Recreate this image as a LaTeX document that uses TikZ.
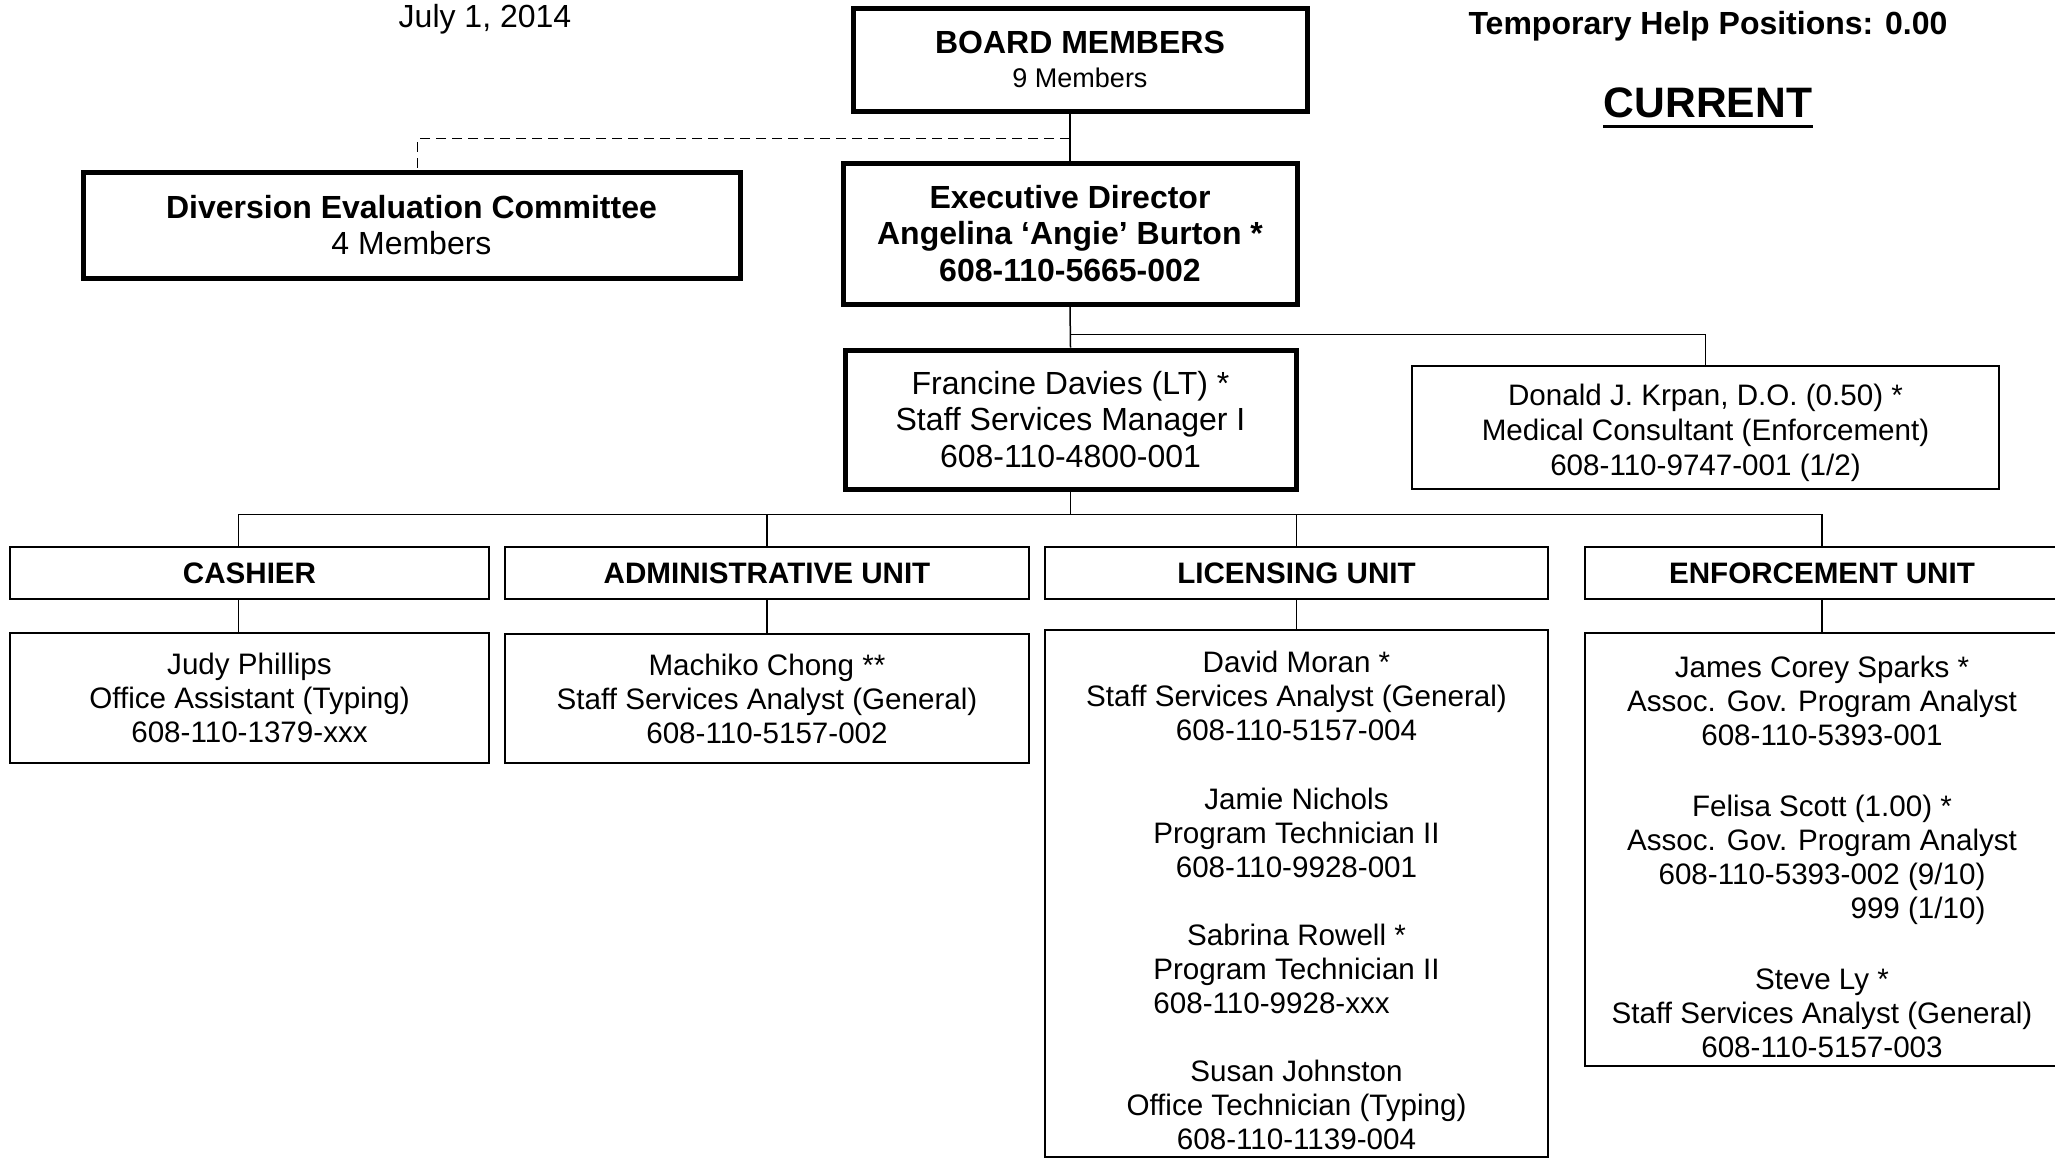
\documentclass[tikz,border=0pt]{standalone}
\usepackage{fontspec}
\setmainfont{Liberation Sans}
\usetikzlibrary{positioning,calc}
\newcommand\ftxt{\fontsize{14.8}{17}\selectfont}
\newcommand\fhead{\fontsize{16}{18.25}\selectfont}
\newcommand\fbrd{\fontsize{16}{17}\selectfont}
\newcommand\fmem{\fontsize{13.5}{17}\selectfont}
\newcommand\fcur{\fontsize{21.3}{24}\selectfont}
\newcommand\topline[2]{\raisebox{0pt}[#1]{#2}}
\tikzset{
  every node/.style={font=\ftxt, inner sep=0pt},
  % --- nodes
  box/.style    = {draw, line width=1pt, align=center, anchor=center},
  bigbox/.style = {box, line width=2.5pt, font=\fhead},
  unit/.style   = {box, font=\ftxt\bfseries, minimum height=26pt},
  % --- edges
  link/.style   = {line width=0.75pt},
  dlink/.style  = {link, dash pattern=on 5pt off 3pt},
}
\begin{document}
\begin{tikzpicture}[x=0.5pt,y=-0.5pt]
  \useasboundingbox (0,0) rectangle (2055,1162);
  % --- header texts
  \node[anchor=base, font=\fhead] (date) at (485,27.5) {July 1, 2014};
  \node[anchor=base, font=\fhead\bfseries] (temp) at (1708,34) {Temporary Help Positions: 0.00};
  \node[anchor=base, font=\fcur\bfseries] (cur) at (1708,117) {CURRENT};
  \draw[line width=1.5pt] ([yshift=-4.5pt]cur.base west) -- ([yshift=-4.5pt]cur.base east);
  % --- top of the chart
  \node[bigbox, font=\fbrd, minimum width=227pt, minimum height=51.5pt] (board) at (1080,59.5)
    {\textbf{BOARD MEMBERS}\\{\fmem 9 Members}};
  \node[bigbox, minimum width=328.5pt, minimum height=53pt] (dec) at (411.5,225)
    {\textbf{Diversion Evaluation Committee}\\4 Members};
  \node[bigbox, font=\fhead\bfseries, minimum width=227pt, minimum height=70.5pt] (exec) at (1070,233.5)
    {Executive Director\\Angelina `Angie' Burton *\\608-110-5665-002};
  \node[bigbox, minimum width=225.5pt, minimum height=69.5pt] (fd) at (1070.5,419.5)
    {Francine Davies (LT) *\\Staff Services Manager I\\608-110-4800-001};
  \node[box, font=\fontsize{14.8}{17.5}\selectfont, minimum width=293.5pt, minimum height=61.5pt] (dk) at (1705.5,427.5)
    {\topline{16pt}{Donald J. Krpan, D.O. (0.50) *}\\Medical Consultant (Enforcement)\\608-110-9747-001 (1/2)};
  % --- units
  \node[unit, minimum width=239.5pt] (cash) at (249.5,573) {CASHIER};
  \node[unit, minimum width=262pt]   (adm)  at (767,573)   {ADMINISTRATIVE UNIT};
  \node[unit, minimum width=251.5pt] (lic)  at (1296.5,573) {LICENSING UNIT};
  \node[unit, minimum width=237pt]   (enf)  at (1822,573)  {ENFORCEMENT UNIT};
  % --- staff
  \node[box, minimum width=239.5pt, minimum height=65pt] (judy) at (249.5,698)
    {Judy Phillips\\Office Assistant (Typing)\\608-110-1379-xxx};
  \node[box, minimum width=262pt, minimum height=64.5pt] (mach) at (767,698.5)
    {Machiko Chong **\\Staff Services Analyst (General)\\608-110-5157-002};
  \node[box, minimum width=251.5pt, minimum height=263.5pt] (licp) at (1296.5,893.5)
    {\topline{18pt}{David Moran *}\\Staff Services Analyst (General)\\608-110-5157-004\\[17.2pt]
     Jamie Nichols\\Program Technician II\\608-110-9928-001\\[17.2pt]
     Sabrina Rowell *\\Program Technician II\\\rlap{608-110-9928-xxx}\hphantom{Program Technician II}\\[17.2pt]
     Susan Johnston\\Office Technician (Typing)\\608-110-1139-004};
  \node[box, minimum width=237pt, minimum height=216.5pt] (enfp) at (1822,849.5)
    {\topline{18pt}{James Corey Sparks *}\\Assoc. Gov. Program Analyst\\608-110-5393-001\\[18.5pt]
     Felisa Scott (1.00) *\\Assoc. Gov. Program Analyst\\608-110-5393-002 (9/10)\\\hphantom{608-110-5393-002}\llap{999} (1/10)\\[18.5pt]
     Steve Ly *\\Staff Services Analyst (General)\\608-110-5157-003};
  % --- connectors
  \path (exec.north) ++(0,-22) coordinate (jb);
  \path (exec.south) ++(0,28) coordinate (jd);
  \path (fd.south) ++(0,23) coordinate (bus);
  \draw[link] (exec.north) -- (exec.north |- board.south);
  \draw[dlink] (jb) -| ([xshift=3pt]dec.north);
  \draw[link] (exec.south) -- (fd.north);
  \draw[link] (jd) -| (dk.north);
  \draw[link] (fd.south) -- (bus);
  \draw[link] ([xshift=-5.5pt]cash.north) |- (bus) -| (enf.north);
  \draw[link] (adm.north) -- (adm.north |- bus);
  \draw[link] (lic.north) -- (lic.north |- bus);
  \draw[link] ([xshift=-5.5pt]cash.south) -- ([xshift=-5.5pt]judy.north);
  \foreach \u/\p in {adm/mach, lic/licp, enf/enfp}
    \draw[link] (\u.south) -- (\p.north);
\end{tikzpicture}
\end{document}
